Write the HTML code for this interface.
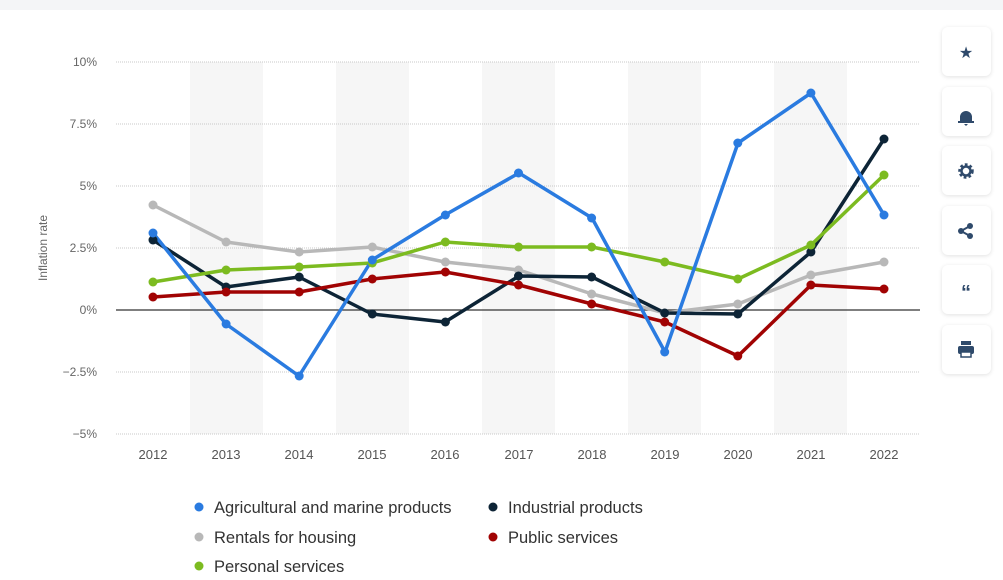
<!DOCTYPE html><html><head><meta charset="utf-8"><style>
body{margin:0;width:1003px;height:580px;background:#fff;font-family:"Liberation Sans",sans-serif;overflow:hidden;position:relative}
.top{position:absolute;left:0;top:0;width:1003px;height:10px;background:#f4f5f7}
.btn{position:absolute;left:942px;width:49px;height:49px;background:#fff;border-radius:6px;box-shadow:0 1px 4px rgba(0,0,0,.12);}
</style></head><body><div class="top"></div>
<svg width="1003" height="580" style="position:absolute;left:0;top:0">
<g fill="#f6f6f6"><rect x="190" y="62" width="73" height="372"/><rect x="336" y="62" width="73" height="372"/><rect x="482" y="62" width="73" height="372"/><rect x="628" y="62" width="73" height="372"/><rect x="774" y="62" width="73" height="372"/></g>
<g stroke="#c8c8c8" stroke-dasharray="1,1"><line x1="116" x2="920" y1="62" y2="62"/><line x1="116" x2="920" y1="124" y2="124"/><line x1="116" x2="920" y1="186" y2="186"/><line x1="116" x2="920" y1="248" y2="248"/><line x1="116" x2="920" y1="372" y2="372"/><line x1="116" x2="920" y1="434" y2="434"/></g>
<line x1="116" x2="920" y1="310" y2="310" stroke="#333" stroke-width="1.2"/>
<g font-size="12" fill="#666" text-anchor="end"><text x="97" y="66">10%</text><text x="97" y="128">7.5%</text><text x="97" y="190">5%</text><text x="97" y="252">2.5%</text><text x="97" y="314">0%</text><text x="97" y="376">−2.5%</text><text x="97" y="438">−5%</text></g>
<text x="47" y="248" font-size="12" fill="#666" text-anchor="middle" transform="rotate(-90 47 248)">Inflation rate</text>
<g font-size="13" fill="#555" text-anchor="middle"><text x="153" y="459">2012</text><text x="226" y="459">2013</text><text x="299" y="459">2014</text><text x="372" y="459">2015</text><text x="445" y="459">2016</text><text x="519" y="459">2017</text><text x="592" y="459">2018</text><text x="665" y="459">2019</text><text x="738" y="459">2020</text><text x="811" y="459">2021</text><text x="884" y="459">2022</text></g>
<g fill="none" stroke-width="3.5" stroke-linejoin="round">
<polyline stroke="#b8b8b8" points="153,205 226,242 299,252 372,247 445,262 519,270 592,294 665,313 738,304 811,275 884,262"/>
<polyline stroke="#0d2436" points="153,240 226,287 299,277 372,314 445,322 519,276 592,277 665,313 738,314 811,252 884,139"/>
<polyline stroke="#a10303" points="153,297 226,292 299,292 372,279 445,272 519,285 592,304 665,322 738,356 811,285 884,289"/>
<polyline stroke="#7cbb20" points="153,282 226,270 299,267 372,263 445,242 519,247 592,247 665,262 738,279 811,245 884,175"/>
<polyline stroke="#2a7be0" points="153,233 226,324 299,376 372,260 445,215 519,173 592,218 665,352 738,143 811,93 884,215"/>
</g>
<g id="m"></g>
<g font-size="16.5" fill="#333">
<circle cx="199" cy="507" r="4.5" fill="#2a7be0"/><text x="214" y="513">Agricultural and marine products</text>
<circle cx="493" cy="507" r="4.5" fill="#0d2436"/><text x="508" y="513">Industrial products</text>
<circle cx="199" cy="537" r="4.5" fill="#b8b8b8"/><text x="214" y="543">Rentals for housing</text>
<circle cx="493" cy="537" r="4.5" fill="#a10303"/><text x="508" y="543">Public services</text>
<circle cx="199" cy="566" r="4.5" fill="#7cbb20"/><text x="214" y="572">Personal services</text>
</g>
</svg>
<div class="btn" style="top:27px"></div><div class="btn" style="top:87px"></div><div class="btn" style="top:146px"></div><div class="btn" style="top:206px"></div><div class="btn" style="top:265px"></div><div class="btn" style="top:325px"></div>
<svg width="1003" height="580" style="position:absolute;left:0;top:0" fill="#2f4a6b">
<text x="966" y="58" font-size="16" text-anchor="middle">★</text>
<path d="M960 117a6 6 0 0 1 12 0v4h2v2h-16v-2h2z M964 124h4l-2 2z"/>
<circle cx="966" cy="171" r="6" fill="none" stroke="#2f4a6b" stroke-width="3.5" stroke-dasharray="2.5,2"/><circle cx="966" cy="171" r="4.5" fill="none" stroke="#2f4a6b" stroke-width="2.5"/>
<circle cx="961" cy="231" r="3"/><circle cx="970" cy="226" r="3"/><circle cx="970" cy="236" r="3"/><path d="M961 231L970 226M961 231L970 236" stroke="#2f4a6b" stroke-width="2"/>
<text x="966" y="299" font-size="20" font-weight="bold" text-anchor="middle">“</text>
<rect x="958" y="346" width="16" height="8" rx="2"/><rect x="961" y="341" width="10" height="4"/><rect x="961" y="352" width="10" height="5" fill="#fff" stroke="#2f4a6b" stroke-width="1.5"/>
</svg>
<script>
var s=[["#b8b8b8",[205,242,252,247,262,270,294,313,304,275,262]],["#0d2436",[240,287,277,314,322,276,277,313,314,252,139]],["#a10303",[297,292,292,279,272,285,304,322,356,285,289]],["#7cbb20",[282,270,267,263,242,247,247,262,279,245,175]],["#2a7be0",[233,324,376,260,215,173,218,352,143,93,215]]];
var g=document.getElementById('m'),h='';
s.forEach(function(a){a[1].forEach(function(y,i){h+='<circle cx="'+(153+73.1*i)+'" cy="'+y+'" r="4.5" fill="'+a[0]+'"/>';});});
g.innerHTML=h;
</script>
</body></html>
